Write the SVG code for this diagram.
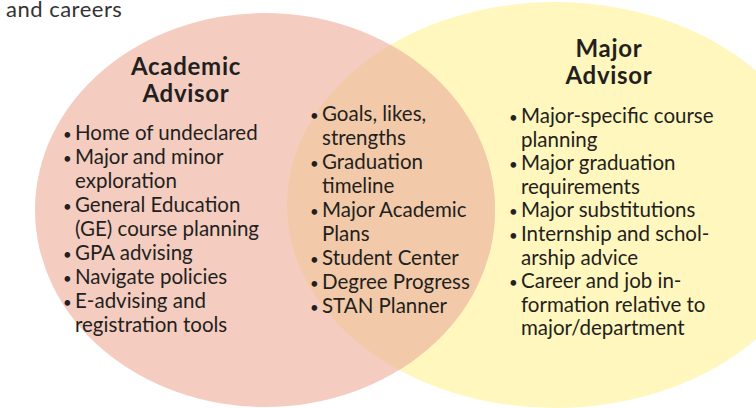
<svg xmlns="http://www.w3.org/2000/svg" width="756" height="408" viewBox="0 0 756 408">
<style>
.t{font-family:Lato,"Open Sans","DejaVu Sans",sans-serif;font-size:20.5px;fill:#231f20}
.h{font-family:Lato,"Open Sans","DejaVu Sans",sans-serif;font-size:24px;letter-spacing:0.7px;font-weight:bold;fill:#231f20;text-anchor:middle}
.b{font-size:15px}
</style>
<defs>
<clipPath id="clipR"><ellipse cx="555" cy="205" rx="268" ry="203"/></clipPath>
</defs>
<rect width="756" height="408" fill="#ffffff"/>
<text class="t" x="6" y="17" style="fill:#333333;font-size:22px;letter-spacing:0.5px">and careers</text>
<g id="major">
<ellipse cx="555" cy="205" rx="268" ry="203" fill="#fff7bd"/>
</g>
<g id="academic">
<ellipse cx="265" cy="210" rx="230" ry="197" fill="#f4cdc0"/>
</g>
<g id="overlap">
<ellipse cx="265" cy="210" rx="230" ry="197" fill="#f2caa9" clip-path="url(#clipR)"/>
</g>
<g id="connectors"/>
<g id="academic-text">
<text class="h" x="186" y="75">Academic</text>
<text class="h" x="186" y="102">Advisor</text>
<text class="t" x="63"><tspan class="b" x="63" y="140">•</tspan><tspan x="75" y="140">Home of undeclared</tspan><tspan class="b" x="63" y="164">•</tspan><tspan x="75" y="164">Major and minor</tspan><tspan x="75" y="188">exploration</tspan><tspan class="b" x="63" y="212">•</tspan><tspan x="75" y="212">General Education</tspan><tspan x="75" y="236">(GE) course planning</tspan><tspan class="b" x="63" y="260">•</tspan><tspan x="75" y="260">GPA advising</tspan><tspan class="b" x="63" y="284">•</tspan><tspan x="75" y="284">Navigate policies</tspan><tspan class="b" x="63" y="308">•</tspan><tspan x="75" y="308">E-advising and</tspan><tspan x="75" y="332">registration tools</tspan></text>
</g>
<g id="shared-text">
<text class="t"><tspan class="b" x="310" y="121">•</tspan><tspan x="322" y="121">Goals, likes,</tspan><tspan x="322" y="145">strengths</tspan><tspan class="b" x="310" y="169">•</tspan><tspan x="322" y="169">Graduation</tspan><tspan x="322" y="193">timeline</tspan><tspan class="b" x="310" y="217">•</tspan><tspan x="322" y="217">Major Academic</tspan><tspan x="322" y="241">Plans</tspan><tspan class="b" x="310" y="265">•</tspan><tspan x="322" y="265">Student Center</tspan><tspan class="b" x="310" y="289">•</tspan><tspan x="322" y="289">Degree Progress</tspan><tspan class="b" x="310" y="313">•</tspan><tspan x="322" y="313">STAN Planner</tspan></text>
</g>
<g id="major-text">
<text class="h" x="609" y="57">Major</text>
<text class="h" x="609" y="84">Advisor</text>
<text class="t"><tspan class="b" x="509" y="123">•</tspan><tspan x="521" y="123">Major-specific course</tspan><tspan x="521" y="146.6">planning</tspan><tspan class="b" x="509" y="170.2">•</tspan><tspan x="521" y="170.2">Major graduation</tspan><tspan x="521" y="193.8">requirements</tspan><tspan class="b" x="509" y="217.4">•</tspan><tspan x="521" y="217.4">Major substitutions</tspan><tspan class="b" x="509" y="241">•</tspan><tspan x="521" y="241">Internship and schol-</tspan><tspan x="521" y="264.6">arship advice</tspan><tspan class="b" x="509" y="288.2">•</tspan><tspan x="521" y="288.2">Career and job in-</tspan><tspan x="521" y="311.8">formation relative to</tspan><tspan x="521" y="335.4">major/department</tspan></text>
</g>
</svg>
